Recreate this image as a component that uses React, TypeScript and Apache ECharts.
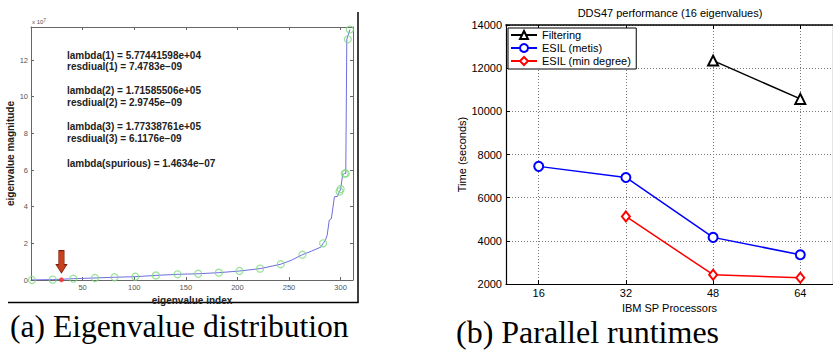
import React, { useEffect, useRef } from "react";
import * as echarts from "echarts";

// ---- (a) eigenvalue distribution (values in units of 1e7) ----
const eigIndex = [1, 21, 41, 62, 81, 101, 121, 142, 162, 182, 202, 222, 242, 252, 263, 272, 281, 283, 285, 287, 289, 291, 294, 297, 299, 300, 302, 304, 305, 306, 309];
const eigValue = [0.005, 0.02, 0.07, 0.11, 0.15, 0.18, 0.25, 0.31, 0.34, 0.4, 0.49, 0.62, 0.86, 1.07, 1.38, 1.58, 1.8, 2.0, 2.13, 2.45, 3.27, 3.34, 4.54, 4.56, 4.83, 4.96, 5.75, 5.81, 5.81, 13.13, 13.66];
const ritzIndex = [1, 21, 41, 62, 81, 101, 121, 142, 162, 182, 202, 222, 242, 263, 283, 299, 300, 304, 305, 307, 309];
const ritzValue = [0.0, 0.02, 0.07, 0.11, 0.15, 0.18, 0.25, 0.31, 0.34, 0.4, 0.49, 0.62, 0.86, 1.38, 2.0, 4.83, 4.96, 5.81, 5.81, 13.13, 13.66];
const spuriousIndex = [29.5];
const spuriousValue = [0.01];
const eigXTicks = [50, 100, 150, 200, 250, 300];
const annotations = [
  "lambda(1) = 5.77441598e+04",
  "resdiual(1) = 7.4783e\u221209",
  "lambda(2) = 1.71585506e+05",
  "resdiual(2) = 2.9745e\u221209",
  "lambda(3) = 1.77338761e+05",
  "resdiual(3) = 6.1176e\u221209",
  "lambda(spurious) = 1.4634e\u221207",
];
const annotationY = [55, 66.7, 90.7, 102.3, 126.7, 138.3, 163.3];

// ---- (b) parallel runtimes ----
const processors = [16, 32, 48, 64];
const filtering = [null, null, 12350, 10575];
const esilMetis = [7450, 6935, 4160, 3355];
const esilMinDegree = [null, 5130, 2430, 2290];

const pairs = (xs: number[], ys: (number | null)[]) =>
  xs.map((x, i) => [x, ys[i]]).filter((p) => p[1] !== null);

const SANS = "Liberation Sans";
const SERIF = "Liberation Serif";

export default function App() {
  const ref = useRef<HTMLDivElement>(null);
  useEffect(() => {
    if (!ref.current) return;
    const chart = echarts.init(ref.current, null, { renderer: "svg" });
    const leftAxisLine = { show: true, onZero: false, lineStyle: { color: "#666", width: 1 } };
    const blackAxisLine = { show: true, onZero: false, lineStyle: { color: "#000", width: 1.2 } };
    const option: any = {
      animation: false,
      backgroundColor: "#fff",
      textStyle: { fontFamily: SANS },
      grid: [
        { left: 31, top: 27, width: 322, height: 253, containLabel: false },
        { left: 506, top: 25, width: 327, height: 259, containLabel: false },
      ],
      xAxis: [
        {
          gridIndex: 0, type: "value", min: 0, max: 312, interval: 50, position: "bottom",
          axisLine: leftAxisLine,
          axisTick: { show: true, inside: true, length: 3, lineStyle: { color: "#666" } },
          axisLabel: {
            fontSize: 7.5, color: "#555", margin: 3, fontFamily: SANS,
            formatter: (v: number) => (eigXTicks.indexOf(v) >= 0 ? String(v) : ""),
          },
          splitLine: { show: false },
          name: "eigenvalue index", nameLocation: "middle", nameGap: 8,
          nameTextStyle: { fontSize: 10, fontWeight: "bold", color: "#222", fontFamily: SANS },
        },
        {
          gridIndex: 0, type: "value", min: 0, max: 312, interval: 50, position: "top",
          axisLine: leftAxisLine,
          axisTick: { show: true, inside: true, length: 3, lineStyle: { color: "#666" } },
          axisLabel: { show: false }, splitLine: { show: false },
        },
        {
          gridIndex: 1, type: "value", min: 10, max: 70, position: "bottom",
          axisLine: blackAxisLine,
          axisTick: { show: true, inside: true, length: 4, customValues: processors, lineStyle: { color: "#000" } },
          axisLabel: { customValues: processors, fontSize: 11, color: "#000", margin: 3, fontFamily: SANS, formatter: (v: number) => String(v) },
          splitLine: { show: true, lineStyle: { color: "#777", type: [1, 2], width: 1 } },
          name: "IBM SP Processors", nameLocation: "middle", nameGap: 13,
          nameTextStyle: { fontSize: 11, color: "#000", fontFamily: SANS },
        },
        {
          gridIndex: 1, type: "value", min: 10, max: 70, position: "top",
          axisLine: { show: true, onZero: false, lineStyle: { color: "#000", width: 1.6 } },
          axisTick: { show: true, inside: true, length: 4, customValues: processors, lineStyle: { color: "#000" } },
          axisLabel: { show: false, customValues: processors }, splitLine: { show: false },
        },
      ],
      yAxis: [
        {
          gridIndex: 0, type: "value", min: 0, max: 13.8, interval: 2, position: "left",
          axisLine: leftAxisLine,
          axisTick: { show: true, inside: true, length: 3, lineStyle: { color: "#666" } },
          axisLabel: {
            fontSize: 7.5, color: "#555", margin: 3, fontFamily: SANS,
            formatter: (v: number) => (Math.abs(v % 2) < 1e-9 ? String(v) : ""),
          },
          splitLine: { show: false },
          name: "eigenvalue magnitude", nameLocation: "middle", nameGap: 4,
          nameTextStyle: { fontSize: 10, fontWeight: "bold", color: "#222", fontFamily: SANS },
        },
        {
          gridIndex: 0, type: "value", min: 0, max: 13.8, interval: 2, position: "right",
          axisLine: leftAxisLine,
          axisTick: { show: true, inside: true, length: 3, lineStyle: { color: "#666" } },
          axisLabel: { show: false }, splitLine: { show: false },
        },
        {
          gridIndex: 1, type: "value", min: 2000, max: 14000, interval: 2000, position: "left",
          axisLine: blackAxisLine,
          axisTick: { show: true, inside: true, length: 4, lineStyle: { color: "#000" } },
          axisLabel: { fontSize: 11, color: "#000", margin: 4, fontFamily: SANS, formatter: (v: number) => String(v) },
          splitLine: { show: true, lineStyle: { color: "#777", type: [1, 2], width: 1 } },
          name: "Time (seconds)", nameLocation: "middle", nameGap: 33,
          nameTextStyle: { fontSize: 11, color: "#000", fontFamily: SANS },
        },
        {
          gridIndex: 1, type: "value", min: 2000, max: 14000, interval: 2000, position: "right",
          axisLine: blackAxisLine,
          axisTick: { show: false }, axisLabel: { show: false }, splitLine: { show: false },
        },
      ],
      legend: {
        data: ["Filtering", "ESIL (metis)", "ESIL (min degree)"],
        orient: "vertical", left: 508, top: 28,
        backgroundColor: "#fff", borderColor: "#000", borderWidth: 1, borderRadius: 0,
        padding: [1, 5, 2, 2], itemGap: 1, itemWidth: 26, itemHeight: 10,
        textStyle: { fontSize: 11, color: "#000", fontFamily: SANS, lineHeight: 12 },
      },
      series: [
        {
          type: "line", name: "eig", xAxisIndex: 0, yAxisIndex: 0, showSymbol: false, symbol: "none",
          data: pairs(eigIndex, eigValue), lineStyle: { color: "#6d6de0", width: 1 }, z: 2,
        },
        {
          type: "scatter", name: "ritz", xAxisIndex: 0, yAxisIndex: 0, symbol: "circle", symbolSize: 7,
          data: pairs(ritzIndex, ritzValue),
          itemStyle: { color: "rgba(0,0,0,0)", borderColor: "#7ddb7d", borderWidth: 1.2 }, z: 3,
        },
        {
          type: "scatter", name: "spurious", xAxisIndex: 0, yAxisIndex: 0, symbol: "circle", symbolSize: 5,
          data: pairs(spuriousIndex, spuriousValue), itemStyle: { color: "#ff2a2a" }, z: 4,
          markPoint: {
            symbol: "path://M2.65,0 L8.05,0 L8.05,14 L10.7,14 L5.35,22.3 L0,14 L2.65,14 Z",
            symbolSize: [10.7, 22.3], symbolOffset: [0, -18],
            itemStyle: { color: "#c8401c", borderColor: "#7a1f0a", borderWidth: 0.8 },
            label: { show: false },
            data: [{ coord: [spuriousIndex[0], spuriousValue[0]] }],
          },
        },
        {
          type: "line", name: "Filtering", xAxisIndex: 2, yAxisIndex: 2, data: pairs(processors, filtering),
          symbol: "emptyTriangle", symbolSize: 10, color: "#000",
          lineStyle: { color: "#000", width: 1.5 }, itemStyle: { color: "#000", borderWidth: 1.5 },
        },
        {
          type: "line", name: "ESIL (metis)", xAxisIndex: 2, yAxisIndex: 2, data: pairs(processors, esilMetis),
          symbol: "emptyCircle", symbolSize: 9, color: "#0000ff",
          lineStyle: { color: "#0000ff", width: 1.5 }, itemStyle: { color: "#0000ff", borderWidth: 1.5 },
        },
        {
          type: "line", name: "ESIL (min degree)", xAxisIndex: 2, yAxisIndex: 2, data: pairs(processors, esilMinDegree),
          symbol: "emptyDiamond", symbolSize: [8, 10], color: "#ff0000",
          lineStyle: { color: "#ff0000", width: 1.5 }, itemStyle: { color: "#ff0000", borderWidth: 1.5 },
        },
      ],
      graphic: [
        ...annotations.map((t, i) => ({
          type: "text", x: 67, y: annotationY[i], z: 10,
          style: { text: t, fontSize: 10, fontWeight: "bold", fill: "#222", fontFamily: SANS, textVerticalAlign: "middle" },
        })),
        {
          type: "text", x: 32, y: 22, z: 10,
          style: {
            text: "x 10{s|7}", fontSize: 6, fill: "#555", fontFamily: SANS, textVerticalAlign: "middle",
            rich: { s: { fontSize: 5, verticalAlign: "top", padding: [0, 0, 4, 0], fill: "#555", fontFamily: SANS } },
          },
        },
        { type: "line", shape: { x1: 358, y1: 12, x2: 358, y2: 302.5 }, style: { stroke: "#000", lineWidth: 1.5 } },
        { type: "line", shape: { x1: 8, y1: 302.5, x2: 358.7, y2: 302.5 }, style: { stroke: "#000", lineWidth: 1.5 } },
        {
          type: "text", x: 670, y: 13,
          style: { text: "DDS47 performance (16 eigenvalues)", fontSize: 11, fill: "#000", fontFamily: SANS, textAlign: "center", textVerticalAlign: "middle" },
        },
        {
          type: "text", x: 10, y: 342,
          style: { text: "(a) Eigenvalue distribution", fontSize: 31.6, fill: "#000", fontFamily: SERIF, textVerticalAlign: "bottom" },
        },
        {
          type: "text", x: 456, y: 348,
          style: { text: "(b) Parallel runtimes", fontSize: 32, fill: "#000", fontFamily: SERIF, textVerticalAlign: "bottom" },
        },
      ],
    };
    chart.setOption(option);
    return () => chart.dispose();
  }, []);
  return <div ref={ref} style={{ position: "fixed", left: 0, top: 0, width: 833, height: 350 }} />;
}
